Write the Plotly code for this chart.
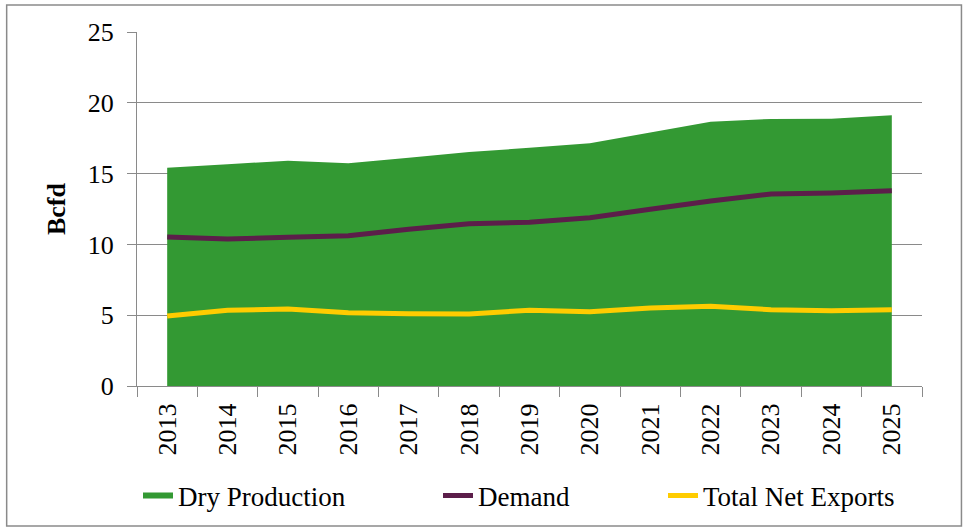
import plotly.graph_objects as go

# Natural gas balance, billion cubic feet per day
years = ["2013", "2014", "2015", "2016", "2017", "2018", "2019",
         "2020", "2021", "2022", "2023", "2024", "2025"]
dry_production = [15.42, 15.66, 15.91, 15.73, 16.12, 16.53, 16.82,
                  17.14, 17.90, 18.67, 18.86, 18.88, 19.12]
demand = [10.52, 10.38, 10.50, 10.61, 11.07, 11.46, 11.56,
          11.89, 12.48, 13.07, 13.56, 13.63, 13.79]
total_net_exports = [4.94, 5.35, 5.44, 5.18, 5.11, 5.08, 5.35,
                     5.25, 5.51, 5.63, 5.39, 5.32, 5.39]

W, H = 965, 529
L, R, T, B = 136.5, 42.5, 32, 143
FONT = "Palatino Linotype, Book Antiqua, Palatino, Liberation Serif, serif"
GRID = "#8a8a8a"

fig = go.Figure()
fig.add_trace(go.Scatter(
    x=years, y=dry_production, name="Dry Production", mode="none",
    fill="tozeroy", fillcolor="#339933", legend="legend",
))
fig.add_trace(go.Scatter(
    x=years, y=demand, name="Demand", mode="lines",
    line=dict(color="#5c1e4a", width=5), legend="legend2",
))
fig.add_trace(go.Scatter(
    x=years, y=total_net_exports, name="Total Net Exports", mode="lines",
    line=dict(color="#ffcc00", width=5), legend="legend3",
))

legend_font = dict(family=FONT, size=27, color="black")


def legend_at(px, py):
    return dict(
        xref="container", yref="container", x=px / W, y=1 - py / H,
        xanchor="left", yanchor="middle", orientation="h",
        font=legend_font, bgcolor="rgba(0,0,0,0)", borderwidth=0,
    )


# outer frame around the whole chart, in paper coordinates
pw, ph = W - L - R, H - T - B
fx0, fx1 = (6 - L) / pw, (962 - L) / pw
fy0, fy1 = (H - B - 526) / ph, (H - B - 5) / ph

fig.update_layout(
    width=W, height=H,
    margin=dict(l=L, r=R, t=T, b=B, autoexpand=False),
    paper_bgcolor="white", plot_bgcolor="white",
    font=dict(family=FONT, color="black"),
    showlegend=True,
    legend=legend_at(138, 496),
    legend2=legend_at(438, 496),
    legend3=legend_at(663, 496),
    xaxis=dict(
        type="category", range=[-0.5, len(years) - 0.5],
        tickson="boundaries", ticks="outside", ticklen=10, tickcolor=GRID,
        showline=True, linecolor=GRID, linewidth=1, showgrid=False,
        tickangle=-90, ticklabelstandoff=6,
        tickfont=dict(family=FONT, size=26, color="black"),
    ),
    yaxis=dict(
        range=[0, 25], dtick=5, ticks="outside", ticklen=9, tickcolor=GRID,
        showline=True, linecolor=GRID, linewidth=1,
        showgrid=True, gridcolor=GRID, gridwidth=1, zeroline=False,
        ticklabelstandoff=8,
        tickfont=dict(family=FONT, size=26, color="black"),
        title=dict(text="<b>Bcfd</b>", standoff=14,
                   font=dict(family=FONT, size=26, color="black")),
    ),
    shapes=[dict(
        type="rect", xref="paper", yref="paper",
        x0=fx0, x1=fx1, y0=fy0, y1=fy1,
        line=dict(color="#8a8a8a", width=1.5), layer="below",
    )],
)

fig.write_html("out.html")
